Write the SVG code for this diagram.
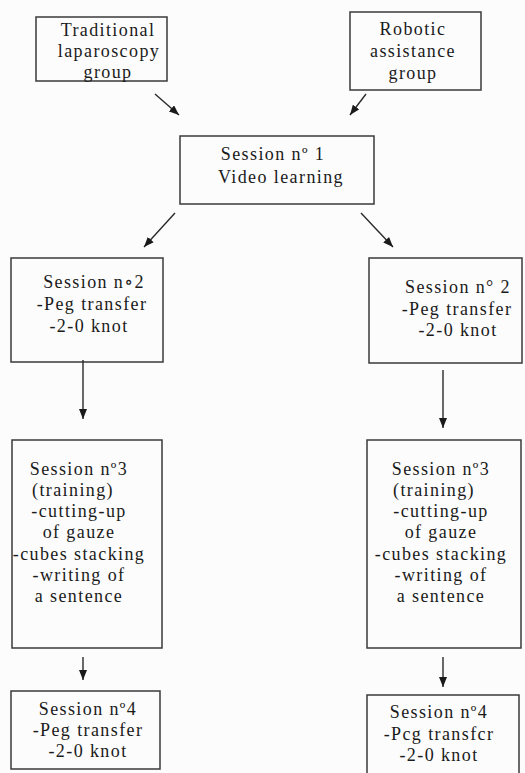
<svg xmlns="http://www.w3.org/2000/svg" width="525" height="773" viewBox="0 0 525 773">
<style>
.bg{fill:#fcfcfc}
.box{fill:none;stroke:#3a3a3a;stroke-width:1.5}
.t{font-size:18px;letter-spacing:1.4px;fill:#1a1a1a;text-anchor:middle}
.c{stroke:#2a2a2a;stroke-width:1.4;fill:none}
</style>
<defs>
<marker id="ah" markerUnits="userSpaceOnUse" markerWidth="10" markerHeight="8" refX="10" refY="4" orient="auto">
<path d="M0,0 L10,4 L0,8 z" fill="#1a1a1a"/>
</marker>
</defs>
<rect class="bg" x="0" y="0" width="525" height="773"/>
<g font-family="Liberation Serif, DejaVu Serif, Times New Roman, serif">
<g id="n-trad">
<rect class="box" x="36" y="17" width="131" height="64"/>
<text class="t" x="108" y="36">Traditional</text>
<text class="t" x="109" y="57">laparoscopy</text>
<text class="t" x="108" y="78">group</text>
</g>
<g id="n-robot">
<rect class="box" x="350" y="12" width="131" height="78"/>
<text class="t" x="413" y="35">Robotic</text>
<text class="t" x="413" y="57">assistance</text>
<text class="t" x="413" y="79">group</text>
</g>
<g id="n-s1">
<rect class="box" x="180" y="136" width="194" height="68"/>
<text class="t" x="273" y="160">Session nº 1</text>
<text class="t" x="281" y="183">Video learning</text>
</g>
<g id="n-s2l">
<rect class="box" x="11" y="258" width="152" height="104"/>
<text class="t" x="94" y="288">Session n∘2</text>
<text class="t" x="92" y="310">-Peg transfer</text>
<text class="t" x="89" y="332">-2-0 knot</text>
</g>
<g id="n-s2r">
<rect class="box" x="369" y="258" width="153" height="105"/>
<text class="t" x="458" y="293">Session n° 2</text>
<text class="t" x="457" y="315">-Peg transfer</text>
<text class="t" x="458" y="336">-2-0 knot</text>
</g>
<g id="n-s3l">
<rect class="box" x="12" y="440" width="150" height="208"/>
<text class="t" x="79" y="475">Session nº3</text>
<text class="t" x="73" y="496">(training)</text>
<text class="t" x="79" y="517">-cutting-up</text>
<text class="t" x="79" y="538">of gauze</text>
<text class="t" x="79" y="560">-cubes stacking</text>
<text class="t" x="79" y="581">-writing of</text>
<text class="t" x="79" y="602">a sentence</text>
</g>
<g id="n-s3r">
<rect class="box" x="367" y="440" width="154" height="208"/>
<text class="t" x="441" y="475">Session nº3</text>
<text class="t" x="434" y="496">(training)</text>
<text class="t" x="441" y="517">-cutting-up</text>
<text class="t" x="441" y="538">of gauze</text>
<text class="t" x="441" y="560">-cubes stacking</text>
<text class="t" x="441" y="581">-writing of</text>
<text class="t" x="441" y="602">a sentence</text>
</g>
<g id="n-s4l">
<rect class="box" x="11" y="691" width="149" height="78"/>
<text class="t" x="88" y="715">Session nº4</text>
<text class="t" x="88" y="736">-Peg transfer</text>
<text class="t" x="88" y="757">-2-0 knot</text>
</g>
<g id="n-s4r">
<rect class="box" x="367" y="695" width="152" height="82"/>
<text class="t" x="439" y="718">Session nº4</text>
<text class="t" x="439" y="740">-Pcg transfcr</text>
<text class="t" x="439" y="761">-2-0 knot</text>
</g>
</g>
<g id="connectors">
<line class="c" x1="155" y1="94" x2="179" y2="115" marker-end="url(#ah)"/>
<line class="c" x1="366" y1="94" x2="350" y2="115" marker-end="url(#ah)"/>
<line class="c" x1="175" y1="213" x2="144" y2="247" marker-end="url(#ah)"/>
<line class="c" x1="361" y1="213" x2="393" y2="247" marker-end="url(#ah)"/>
<line class="c" x1="83" y1="360" x2="83" y2="419" marker-end="url(#ah)"/>
<line class="c" x1="443" y1="370" x2="443" y2="428" marker-end="url(#ah)"/>
<line class="c" x1="83" y1="657" x2="83" y2="680" marker-end="url(#ah)"/>
<line class="c" x1="443" y1="657" x2="443" y2="687" marker-end="url(#ah)"/>
</g>
</svg>
